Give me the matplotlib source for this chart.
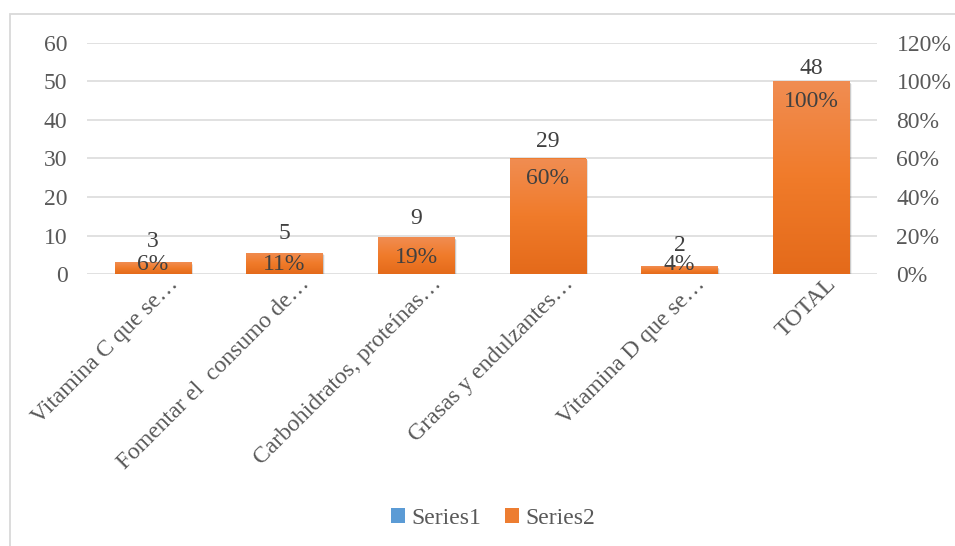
import numpy as np
import matplotlib
matplotlib.use("Agg")
import matplotlib.pyplot as plt
from matplotlib.patches import Rectangle, Patch
from matplotlib.colors import LinearSegmentedColormap

# ---- data -------------------------------------------------------------
categories = [
    "Vitamina C que se…",
    "Fomentar el  consumo de…",
    "Carbohidratos, proteínas…",
    "Grasas y endulzantes…",
    "Vitamina D que se…",
    "TOTAL",
]
counts = [3, 5, 9, 29, 2, 48]                       # Series1 (left axis)
shares = [0.06, 0.11, 0.19, 0.60, 0.04, 1.00]      # Series2 (right axis)
left_ticks = [0, 10, 20, 30, 40, 50, 60]
right_ticks = [0.0, 0.2, 0.4, 0.6, 0.8, 1.0, 1.2]
series_names = ["Series1", "Series2"]

# ---- style ------------------------------------------------------------
plt.rcParams["font.family"] = ["Liberation Serif", "DejaVu Serif"]
FS = 17
TICK_C = "#595959"
LABEL_C = "#404040"
GRID_C = "#D9D9D9"
BLUE = "#5B9BD5"
ORANGE = "#ED7D31"
orange_grad = LinearSegmentedColormap.from_list(
    "og", ["#E46A1A", "#F07B2A", "#F18D52"])

W, H = 955, 546
fig = plt.figure(figsize=(W / 100, H / 100), dpi=100)
fig.patch.set_facecolor("white")

# chart-area border (open to the right and bottom)
fig.add_artist(Rectangle((10 / W, -0.2), 1.5, (1 - 14 / H) + 0.2,
                         transform=fig.transFigure, fill=False,
                         edgecolor=GRID_C, lw=1.3))

ax = fig.add_axes([87 / W, 1 - 274 / H, 790 / W, 231 / H])
ax2 = ax.twinx()

x = np.arange(len(categories))
bw = 0.58

ax.set_xlim(-0.5, len(categories) - 0.5)
ax.set_ylim(left_ticks[0], left_ticks[-1])
ax2.set_ylim(right_ticks[0], right_ticks[-1])

for a in (ax, ax2):
    for s in a.spines.values():
        s.set_visible(False)

ax.set_yticks(left_ticks)
ax.set_yticklabels([str(t) for t in left_ticks])
ax2.set_yticks(right_ticks)
ax2.set_yticklabels([f"{round(t * 100)}%" for t in right_ticks])
ax.tick_params(axis="y", length=0, pad=14, labelsize=FS, labelcolor=TICK_C)
ax2.tick_params(axis="y", length=0, pad=14, labelsize=FS, labelcolor=TICK_C)
ax.set_xticks([])
ax.yaxis.grid(True, color=GRID_C, lw=1.1)
ax.set_axisbelow(True)

# Series1 bars (primary axis)
ax.bar(x, counts, width=bw, color=BLUE, zorder=2)

# Series2 bars (secondary axis) with soft shadow and vertical gradient
grad = np.linspace(0, 1, 256).reshape(-1, 1)
for xi, s in zip(x, shares):
    x0 = xi - bw / 2
    # shadow layers
    for k, al in zip((4, 3, 2, 1), (0.05, 0.07, 0.09, 0.12)):
        off = matplotlib.transforms.ScaledTranslation(
            k * 0.6 / 100, -k * 0.6 / 100, fig.dpi_scale_trans)
        sh = Rectangle((x0, 0), bw, s, facecolor="black", alpha=al,
                       edgecolor="none", transform=ax2.transData + off,
                       zorder=2)
        ax2.add_patch(sh)
    rect = Rectangle((x0, 0), bw, s, facecolor=ORANGE, edgecolor="none",
                     zorder=3)
    ax2.add_patch(rect)
    im = ax2.imshow(grad, extent=(x0, x0 + bw, 0, s), origin="lower",
                    aspect="auto", cmap=orange_grad, zorder=3.5,
                    interpolation="bilinear")
    im.set_clip_path(rect)

ax2.set_xlim(-0.5, len(categories) - 0.5)
ax2.set_ylim(right_ticks[0], right_ticks[-1])

# count labels above the Series1 bars
for xi, c in zip(x, counts):
    ax.annotate(str(c), (xi, c), xytext=(0, 11.2), textcoords="offset points",
                ha="center", va="baseline", fontsize=FS, color=LABEL_C,
                zorder=6)

# percentage labels at the inside end of the Series2 bars
px_per_unit = (ax2.transData.transform((0, 1))[1]
               - ax2.transData.transform((0, 0))[1])
for xi, s in zip(x, shares):
    h_px = s * px_per_unit
    base_px = max(4, h_px - 26)
    ax2.annotate(f"{round(s * 100)}%", (xi, 0),
                 xytext=(0, base_px * 72 / 100), textcoords="offset points",
                 ha="center", va="baseline", fontsize=FS, color=LABEL_C,
                 zorder=6)

# rotated category labels
for xi, cat in zip(x, categories):
    ax.annotate(cat, (xi, 0), xycoords=("data", "axes fraction"),
                xytext=(26 * 0.72, -11 * 0.72), textcoords="offset points",
                rotation=45, rotation_mode="anchor", ha="right",
                va="baseline", fontsize=FS, color=TICK_C,
                annotation_clip=False)

# legend
handles = [Patch(facecolor=BLUE, edgecolor="none"),
           Patch(facecolor=ORANGE, edgecolor="none")]
leg = fig.legend(handles, series_names, loc="center",
                 bbox_to_anchor=(493 / W, 1 - 518 / H), ncol=2,
                 frameon=False, fontsize=FS, handlelength=0.6,
                 handleheight=0.6, handletextpad=0.25, columnspacing=1.0)
for t in leg.get_texts():
    t.set_color(TICK_C)

fig.savefig("out.png", dpi=100, facecolor="white")
